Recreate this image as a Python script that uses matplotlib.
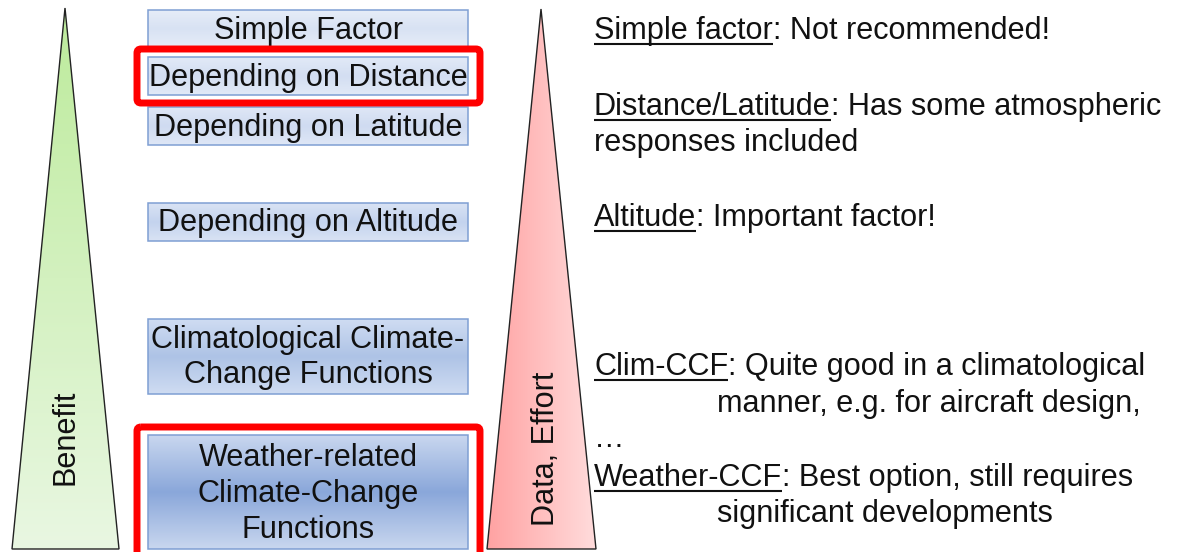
import numpy as np
import matplotlib
matplotlib.use("Agg")
import matplotlib.pyplot as plt
from matplotlib.patches import Polygon, Rectangle, FancyBboxPatch
from matplotlib.colors import to_rgb

plt.rcParams['font.family'] = ['Liberation Sans', 'DejaVu Sans']

# ---- content ----
box_labels = [
    "Simple Factor",
    "Depending on Distance",
    "Depending on Latitude",
    "Depending on Altitude",
    "Climatological Climate-\nChange Functions",
    "Weather-related\nClimate-Change\nFunctions",
]
highlighted = [False, True, False, False, False, True]
left_axis_label = "Benefit"
right_axis_label = "Data, Effort"

note_labels = ["Simple factor", "Distance/Latitude", "Altitude", "Clim-CCF", "Weather-CCF"]
note_texts = [": Not recommended!", ": Has some atmospheric", ": Important factor!",
              ": Quite good in a climatological", ": Best option, still requires"]
note_cont = ["", "responses included", "", "manner, e.g. for aircraft design,", "significant developments"]
note_cont_indent = [False, False, False, True, True]

# ---- layout (pixel space) ----
W, H = 1178, 552
fig = plt.figure(figsize=(W / 100, H / 100), dpi=100)
ax = fig.add_axes([0, 0, 1, 1])
ax.set_xlim(0, W)
ax.set_ylim(H, 0)
ax.axis('off')

FS = 22.1

def grad_img(c_a, c_b, n=256, horizontal=False, symmetric=False):
    a = np.array(to_rgb(c_a)); b = np.array(to_rgb(c_b))
    t = np.linspace(0, 1, n)
    if symmetric:
        t = 1 - np.abs(2 * t - 1)
    cols = a[None, :] * (1 - t[:, None]) + b[None, :] * t[:, None]
    if horizontal:
        return cols[None, :, :]
    return cols[:, None, :]

# green triangle
tri_g = Polygon([(65, 8), (12, 549), (119, 549)], closed=True, facecolor='none',
                edgecolor='#222222', lw=1.0, zorder=3)
ax.add_patch(tri_g)
im = ax.imshow(grad_img('#bdeb9c', '#e9f7e2'), extent=(12, 119, 549, 8),
               aspect='auto', origin='upper', zorder=2)
im.set_clip_path(tri_g)
ax.text(66, 437, left_axis_label, rotation=90, ha='center', va='center',
        fontsize=FS, color='#111111', zorder=4)

# red triangle
tri_r = Polygon([(541, 9), (487, 549), (596, 549)], closed=True, facecolor='none',
                edgecolor='#222222', lw=1.0, zorder=3)
ax.add_patch(tri_r)
im = ax.imshow(grad_img('#ffa2a2', '#ffdcdc', horizontal=True), extent=(487, 596, 549, 9),
               aspect='auto', origin='upper', zorder=2)
im.set_clip_path(tri_r)
ax.text(546, 449, right_axis_label, rotation=90, ha='center', va='center',
        fontsize=FS, color='#111111', zorder=4)

# boxes
box_y = [(10, 47), (57, 95), (107, 145), (203, 241), (319, 394), (435, 549)]
box_edge_cols = ['#e6edf8', '#e2eaf7', '#dfe7f6', '#d9e3f4', '#cfdcf2', '#c9d7ef']
box_mid_cols = ['#d8e2f3', '#d3def2', '#cfdbf1', '#c4d3ee', '#aec3e6', '#8aa7da']
line_baselines = [[39], [86], [136], [231], [348, 383], [466, 502, 538]]
bx0, bx1 = 148, 468
for i, lab in enumerate(box_labels):
    y0, y1 = box_y[i]
    r = Rectangle((bx0, y0), bx1 - bx0, y1 - y0, facecolor='none',
                  edgecolor='#7f9fd3', lw=1.1, zorder=3)
    ax.add_patch(r)
    im = ax.imshow(grad_img(box_edge_cols[i], box_mid_cols[i], symmetric=True),
                   extent=(bx0, bx1, y1, y0), aspect='auto', origin='upper', zorder=2)
    im.set_clip_path(r)
    for j, line in enumerate(lab.split("\n")):
        ax.text((bx0 + bx1) / 2, line_baselines[i][j], line, ha='center', va='baseline',
                fontsize=FS, color='#111111', zorder=4)
    if highlighted[i]:
        pad_top = 8
        rb = FancyBboxPatch((137, y0 - pad_top), 480 - 137,
                            (y1 - y0) + 2 * pad_top if i < 5 else 200,
                            boxstyle="round,pad=0,rounding_size=4",
                            facecolor='none', edgecolor='#ff0000', lw=5, zorder=5)
        ax.add_patch(rb)

# notes on the right
fig.canvas.draw()
renderer = fig.canvas.get_renderer()
inv = ax.transData.inverted()
note_base = [39, 115, 226, 375, 486]
cont_base = [None, 151, None, 412, 522]
tx = 594
for i, lab in enumerate(note_labels):
    t = ax.text(tx, note_base[i], lab, ha='left', va='baseline', fontsize=FS,
                color='#111111', zorder=4)
    bb = t.get_window_extent(renderer=renderer)
    (x0d, _), (x1d, _) = inv.transform([(bb.x0, bb.y0), (bb.x1, bb.y1)])
    ax.plot([x0d, x1d], [note_base[i] + 5, note_base[i] + 5], color='#111111',
            lw=1.5, solid_capstyle='butt', zorder=4)
    ax.text(x1d, note_base[i], note_texts[i], ha='left', va='baseline', fontsize=FS,
            color='#111111', zorder=4)
    if note_cont[i]:
        cx = 717 if note_cont_indent[i] else tx
        ax.text(cx, cont_base[i], note_cont[i], ha='left', va='baseline', fontsize=FS,
                color='#111111', zorder=4)

ax.text(tx, 447, "\u2026", ha='left', va='baseline', fontsize=FS, color='#111111', zorder=4)

fig.savefig("out.png", dpi=100)
